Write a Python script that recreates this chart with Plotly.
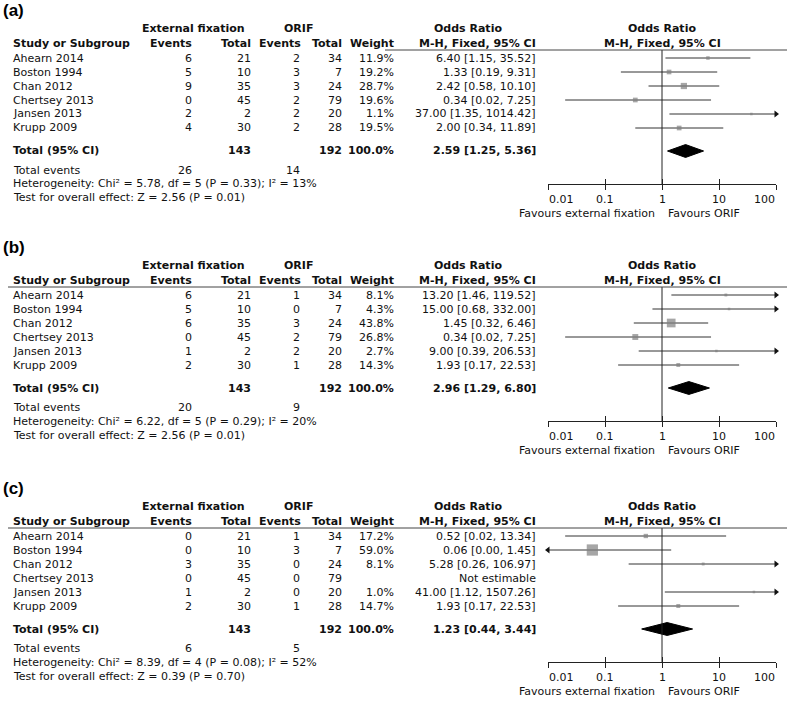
import math
import plotly.graph_objects as go

W, H = 787, 706
FONT = "DejaVu Sans"

# ---------------- data ----------------
studies = ["Ahearn 2014", "Boston 1994", "Chan 2012", "Chertsey 2013", "Jansen 2013", "Krupp 2009"]
ext_total = [21, 10, 35, 45, 2, 30]
orif_total = [34, 7, 24, 79, 20, 28]
tick_vals = [0.01, 0.1, 1, 10, 100]
tick_text = ["0.01", "0.1", "1", "10", "100"]
panel_labels = ["(a)", "(b)", "(c)"]

a_ext_events = [6, 5, 9, 0, 2, 4]
a_orif_events = [2, 3, 3, 2, 2, 2]
a_weight = [11.9, 19.2, 28.7, 19.6, 1.1, 19.5]
a_or = [6.40, 1.33, 2.42, 0.34, 37.00, 2.00]
a_lo = [1.15, 0.19, 0.58, 0.02, 1.35, 0.34]
a_hi = [35.52, 9.31, 10.10, 7.25, 1014.42, 11.89]
a_pooled = [2.59, 1.25, 5.36]
a_events_sum = [26, 14]
a_het = ["5.78", "5", "0.33", "13"]
a_test = ["2.56", "0.01"]

b_ext_events = [6, 5, 6, 0, 1, 2]
b_orif_events = [1, 0, 3, 2, 2, 1]
b_weight = [8.1, 4.3, 43.8, 26.8, 2.7, 14.3]
b_or = [13.20, 15.00, 1.45, 0.34, 9.00, 1.93]
b_lo = [1.46, 0.68, 0.32, 0.02, 0.39, 0.17]
b_hi = [119.52, 332.00, 6.46, 7.25, 206.53, 22.53]
b_pooled = [2.96, 1.29, 6.80]
b_events_sum = [20, 9]
b_het = ["6.22", "5", "0.29", "20"]
b_test = ["2.56", "0.01"]

c_ext_events = [0, 0, 3, 0, 1, 2]
c_orif_events = [1, 3, 0, 0, 0, 1]
c_weight = [17.2, 59.0, 8.1, None, 1.0, 14.7]
c_or = [0.52, 0.06, 5.28, None, 41.00, 1.93]
c_lo = [0.02, 0.00, 0.26, None, 1.12, 0.17]
c_hi = [13.34, 1.45, 106.97, None, 1507.26, 22.53]
c_pooled = [1.23, 0.44, 3.44]
c_events_sum = [6, 5]
c_het = ["8.39", "4", "0.08", "52"]
c_test = ["0.39", "0.70"]

panels = [
    dict(ee=a_ext_events, oe=a_orif_events, w=a_weight, orr=a_or, lo=a_lo, hi=a_hi,
         pooled=a_pooled, ev=a_events_sum, het=a_het, test=a_test),
    dict(ee=b_ext_events, oe=b_orif_events, w=b_weight, orr=b_or, lo=b_lo, hi=b_hi,
         pooled=b_pooled, ev=b_events_sum, het=b_het, test=b_test),
    dict(ee=c_ext_events, oe=c_orif_events, w=c_weight, orr=c_or, lo=c_lo, hi=c_hi,
         pooled=c_pooled, ev=c_events_sum, het=c_het, test=c_test),
]

# ---------------- layout geometry (page pixels) ----------------
OFFS = [0, 237, 478]
X_LO, X_HI = 548, 776
ROW0, ROWH = 58, 14
RULE, TOTAL, AXIS = 50, 151, 184
LINE_Y = {"label": 10, "h1": 28, "h2": 43, "tev": 170, "het": 184, "test": 198,
          "tick": 199, "fav": 213}
RULE_START = [385, 8, 8]
COL = dict(name=12, ee=193, et=252, oe=301, ot=343, w=395, ortxt=537)

fig = go.Figure()
ann = []
shapes = []


def py(p):
    return 1 - p / H


def px(x):
    return x / W


def txt(x, y, s, anchor="left", size=11, bold=False, family=FONT, color="#111", xref="paper"):
    if bold:
        s = "<b>" + s + "</b>"
    ann.append(dict(x=x if xref != "paper" else px(x), y=py(y), xref=xref, yref="paper", text=s,
                    showarrow=False, xanchor=anchor, yanchor="middle",
                    font=dict(family=family, size=size, color=color), borderpad=0))


def fmt_or(o, l, h):
    return f"{o:.2f} [{l:.2f}, {h:.2f}]"


yr_top = (RULE - ROW0) / ROWH
yr_bot = (AXIS - ROW0) / ROWH
y_total = (TOTAL - ROW0) / ROWH

layout_axes = {}
for k, (p, off) in enumerate(zip(panels, OFFS), start=1):
    xs = "" if k == 1 else str(k)
    xa, ya = "x" + xs, "y" + xs
    xo = "x" + str(k + 3)

    layout_axes["xaxis" + xs] = dict(
        type="log", range=[-2, 2], domain=[px(X_LO), px(X_HI)], anchor=ya,
        showline=True, linecolor="#222", linewidth=1, ticks="outside", ticklen=5,
        tickcolor="#222", tickwidth=1, tickvals=tick_vals, showticklabels=False,
        showgrid=False, zeroline=False, fixedrange=True, automargin=False)
    layout_axes["xaxis" + str(k + 3)] = dict(
        type="log", range=[-2, 2], domain=[px(X_LO), px(X_HI)], anchor=ya,
        overlaying=xa, showline=False, ticks="inside", ticklen=5, tickcolor="#222",
        tickwidth=1, tickvals=tick_vals, showticklabels=False, showgrid=False,
        zeroline=False, fixedrange=True, automargin=False)
    layout_axes["yaxis" + xs] = dict(
        range=[yr_bot, yr_top], domain=[py(off + AXIS), py(off + RULE)], anchor=xa,
        visible=False, fixedrange=True, automargin=False)

    fig.add_trace(go.Scatter(x=[1], y=[0], xaxis=xo, yaxis=ya, mode="markers",
                             marker=dict(opacity=0), hoverinfo="skip", showlegend=False))

    shapes.append(dict(type="line", xref=xa, yref=ya + " domain", x0=1, x1=1, y0=0, y1=1,
                       line=dict(color="#222", width=1)))
    shapes.append(dict(type="line", xref="paper", yref="paper", x0=px(RULE_START[k - 1]), x1=1,
                       y0=py(off + RULE), y1=py(off + RULE), line=dict(color="#444", width=1)))

    lx, ly = [], []
    rx, ry, lfx, lfy = [], [], [], []
    sx, sy, ss = [], [], []
    for i in range(len(studies)):
        o, l, h, w = p["orr"][i], p["lo"][i], p["hi"][i], p["w"][i]
        if o is None:
            continue
        lx += [max(l, tick_vals[0]), min(h, tick_vals[-1]), None]
        ly += [i, i, None]
        if h > tick_vals[-1]:
            rx.append(tick_vals[-1]); ry.append(i)
        if l < tick_vals[0]:
            lfx.append(tick_vals[0]); lfy.append(i)
        sx.append(o); sy.append(i); ss.append(max(2.5, 1.5 + 0.165 * w))
    fig.add_trace(go.Scatter(x=lx, y=ly, xaxis=xa, yaxis=ya, mode="lines",
                             line=dict(color="#333", width=1), hoverinfo="skip", showlegend=False))
    fig.add_trace(go.Scatter(x=sx, y=sy, xaxis=xa, yaxis=ya, mode="markers",
                             marker=dict(symbol="square", size=ss, color="#808080",
                                         line=dict(width=0)),
                             hoverinfo="skip", showlegend=False, cliponaxis=False))
    if rx:
        fig.add_trace(go.Scatter(x=rx, y=ry, xaxis=xa, yaxis=ya, mode="markers",
                                 marker=dict(symbol="triangle-right", size=6, color="#111"),
                                 hoverinfo="skip", showlegend=False, cliponaxis=False))
    if lfx:
        fig.add_trace(go.Scatter(x=lfx, y=lfy, xaxis=xa, yaxis=ya, mode="markers",
                                 marker=dict(symbol="triangle-left", size=6, color="#111"),
                                 hoverinfo="skip", showlegend=False, cliponaxis=False))
    est, plo, phi = p["pooled"]
    dh = 0.46
    fig.add_trace(go.Scatter(x=[plo, est, phi, est, plo], y=[y_total, y_total - dh, y_total, y_total + dh, y_total],
                             xaxis=xa, yaxis=ya, mode="lines", fill="toself", fillcolor="#000",
                             line=dict(color="#000", width=1), hoverinfo="skip", showlegend=False))

    # tick labels: ends aligned inward like RevMan
    n = len(tick_vals)
    for j, (tv, tt) in enumerate(zip(tick_vals, tick_text)):
        anc = "left" if j == 0 else ("right" if j == n - 1 else "center")
        txt(math.log10(tv), off + LINE_Y["tick"], tt, anchor=anc, xref=xa)

    # ---------- text table ----------
    txt(2, off + LINE_Y["label"], panel_labels[k - 1], size=17, bold=True,
        family="Liberation Sans", color="#000")
    h1 = off + LINE_Y["h1"]
    h2 = off + LINE_Y["h2"]
    txt(193, h1, "External fixation", anchor="center", bold=True)
    txt(298, h1, "ORIF", anchor="center", bold=True)
    txt(468, h1, "Odds Ratio", anchor="center", bold=True)
    txt(662, h1, "Odds Ratio", anchor="center", bold=True)
    txt(COL["name"], h2, "Study or Subgroup", bold=True)
    txt(COL["ee"], h2, "Events", anchor="right", bold=True)
    txt(COL["et"], h2, "Total", anchor="right", bold=True)
    txt(COL["oe"] + 1, h2, "Events", anchor="right", bold=True)
    txt(COL["ot"], h2, "Total", anchor="right", bold=True)
    txt(COL["w"], h2, "Weight", anchor="right", bold=True)
    txt(COL["ortxt"], h2, "M-H, Fixed, 95% CI", anchor="right", bold=True)
    txt(662, h2, "M-H, Fixed, 95% CI", anchor="center", bold=True)

    for i, s in enumerate(studies):
        y = off + ROW0 + ROWH * i
        txt(COL["name"], y, s)
        txt(COL["ee"], y, str(p["ee"][i]), anchor="right")
        txt(COL["et"], y, str(ext_total[i]), anchor="right")
        txt(COL["oe"], y, str(p["oe"][i]), anchor="right")
        txt(COL["ot"], y, str(orif_total[i]), anchor="right")
        if p["w"][i] is not None:
            txt(COL["w"], y, f"{p['w'][i]:.1f}%", anchor="right")
            txt(COL["ortxt"], y, fmt_or(p["orr"][i], p["lo"][i], p["hi"][i]), anchor="right")
        else:
            txt(COL["ortxt"], y, "Not estimable", anchor="right")

    yt = off + TOTAL
    txt(COL["name"], yt, "Total (95% CI)", bold=True)
    txt(COL["et"], yt, str(sum(ext_total)), anchor="right", bold=True)
    txt(COL["ot"], yt, str(sum(orif_total)), anchor="right", bold=True)
    txt(COL["w"], yt, "100.0%", anchor="right", bold=True)
    txt(COL["ortxt"], yt, fmt_or(est, plo, phi), anchor="right", bold=True)

    txt(COL["name"], off + LINE_Y["tev"], "Total events")
    txt(COL["ee"], off + LINE_Y["tev"], str(p["ev"][0]), anchor="right")
    txt(COL["oe"], off + LINE_Y["tev"], str(p["ev"][1]), anchor="right")
    chi, df, ph, i2 = p["het"]
    txt(COL["name"], off + LINE_Y["het"],
        f"Heterogeneity: Chi² = {chi}, df = {df} (P = {ph}); I² = {i2}%")
    z, pz = p["test"]
    txt(COL["name"], off + LINE_Y["test"], f"Test for overall effect: Z = {z} (P = {pz})")
    txt(656, off + LINE_Y["fav"], "Favours external fixation", anchor="right")
    txt(667, off + LINE_Y["fav"], "Favours ORIF", anchor="left")

fig.update_layout(width=W, height=H, margin=dict(l=0, r=0, t=0, b=0, pad=0),
                  paper_bgcolor="white", plot_bgcolor="rgba(0,0,0,0)",
                  annotations=ann, shapes=shapes, showlegend=False, **layout_axes)

fig.write_html("out.html", config={"displayModeBar": False, "staticPlot": True},
               post_script="document.body.style.margin='0';document.body.style.overflow='hidden';")
